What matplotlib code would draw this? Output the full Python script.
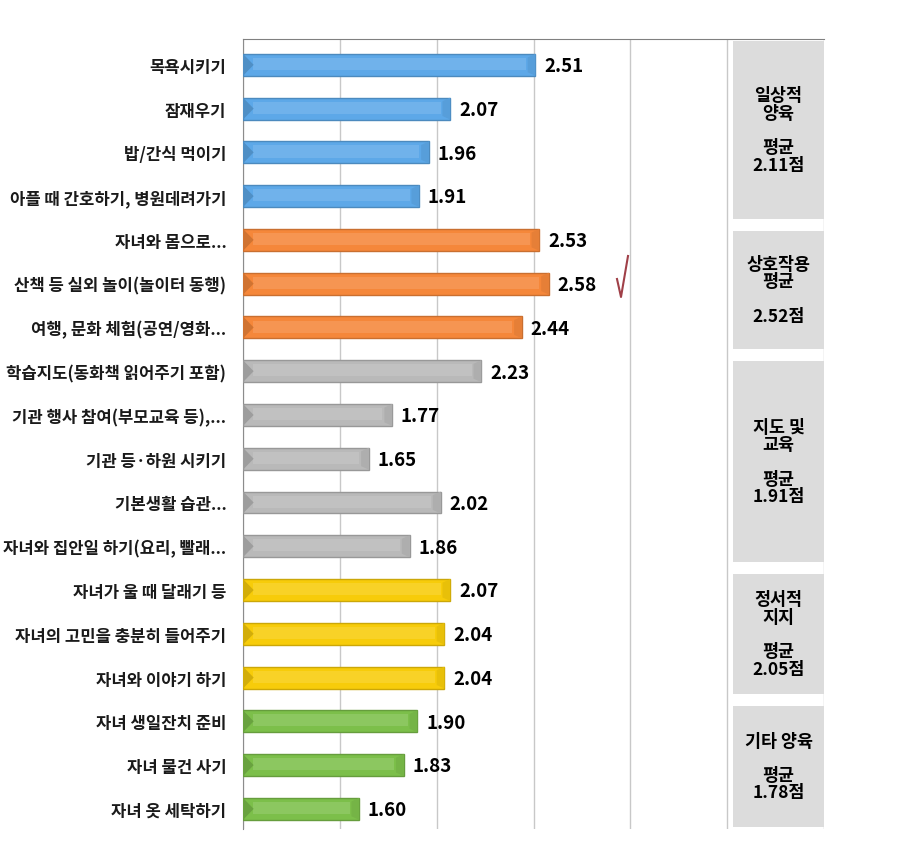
import matplotlib.pyplot as plt
from matplotlib.patches import Rectangle, Polygon
from matplotlib.lines import Line2D
import matplotlib.colors as mcolors

plt.rcParams['font.family'] = ['Noto Sans CJK KR', 'DejaVu Sans']

# data
categories = [
    "목욕시키기", "잠재우기", "밥/간식 먹이기", "아플 때 간호하기, 병원데려가기",
    "자녀와 몸으로...", "산책 등 실외 놀이(놀이터 동행)", "여행, 문화 체험(공연/영화...",
    "학습지도(동화책 읽어주기 포함)", "기관 행사 참여(부모교육 등),...", "기관 등·하원 시키기",
    "기본생활 습관...", "자녀와 집안일 하기(요리, 빨래...",
    "자녀가 울 때 달래기 등", "자녀의 고민을 충분히 들어주기", "자녀와 이야기 하기",
    "자녀 생일잔치 준비", "자녀 물건 사기", "자녀 옷 세탁하기",
]
values = [2.51, 2.07, 1.96, 1.91,
          2.53, 2.58, 2.44,
          2.23, 1.77, 1.65, 2.02, 1.86,
          2.07, 2.04, 2.04,
          1.90, 1.83, 1.60]
group_sizes = [4, 3, 5, 3, 3]
group_colors = ["#5DA8E8", "#F5873A", "#B9B9B9", "#F7CC0A", "#7CBF4A"]
group_texts = ["일상적\n양육\n\n평균\n2.11점",
               "상호작용\n평균\n\n2.52점",
               "지도 및\n교육\n\n평균\n1.91점",
               "정서적\n지지\n\n평균\n2.05점",
               "기타 양육\n\n평균\n1.78점"]
# box extents in figure pixels (top, bottom)
group_boxes = [(42, 220), (232, 350), (362, 563), (575, 695), (707, 828)]

W, H = 897, 854
fig = plt.figure(figsize=(W / 100, H / 100), dpi=100)
ax = fig.add_axes([243 / W, 1 - 830 / H, (824 - 243) / W, 790 / H])

x0 = 1.0
h = 0.5
colors = []
for c, n in zip(group_colors, group_sizes):
    colors += [c] * n


def shade(c, f):
    r, g, b = mcolors.to_rgb(c)
    if f < 1:
        return (r * f, g * f, b * f)
    return (r + (1 - r) * (f - 1), g + (1 - g) * (f - 1), b + (1 - b) * (f - 1))


for i, (v, c) in enumerate(zip(values, colors)):
    ax.barh(i, v - x0, left=x0, height=h, color=c, edgecolor=shade(c, 0.82),
            linewidth=1, zorder=3)
    # lighter inner band
    ax.barh(i - 0.02, v - x0 - 0.1, left=x0 + 0.05, height=h * 0.55,
            color=shade(c, 1.12), linewidth=0, zorder=4)
    # left bevel arrow
    ax.add_patch(Polygon([(x0, i - h / 2), (x0 + 0.055, i), (x0, i + h / 2)],
                         closed=True, color=shade(c, 0.85), zorder=5, linewidth=0))
    # right bevel
    ax.add_patch(Polygon([(v, i - h / 2), (v - 0.04, i - h / 2 + 0.08),
                          (v - 0.04, i + h / 2 - 0.08), (v, i + h / 2)],
                         closed=True, color=shade(c, 0.94), zorder=5, linewidth=0))
    ax.text(v + 0.045, i + 0.02, f"{v:.2f}", va='center', ha='left', fontsize=13.5,
            fontweight='bold', color='black', zorder=6)

ax.set_xlim(1.0, 4.0)
ax.set_ylim(17.46, -0.59)
ax.set_xticks([1.0, 1.5, 2.0, 2.5, 3.0, 3.5, 4.0])
ax.xaxis.grid(True, color='#C8C8C8', linewidth=1)
ax.set_axisbelow(True)
ax.tick_params(axis='x', length=0, labelbottom=False)
ax.set_yticks(range(len(categories)))
ax.set_yticklabels(categories, fontsize=12, fontweight='bold', color='#1A1A1A')
ax.tick_params(axis='y', length=0, pad=12)
for s in ['right', 'bottom']:
    ax.spines[s].set_visible(False)
ax.spines['left'].set_color('#8C8C8C')
ax.spines['top'].set_color('#808080')

# group summary boxes
for (top, bot), txt in zip(group_boxes, group_texts):
    fig.add_artist(Rectangle((733 / W, 1 - bot / H), (824 - 733) / W, (bot - top) / H,
                             transform=fig.transFigure, facecolor='#DCDCDC',
                             edgecolor='none', zorder=5))
    fig.text((733 + 824) / 2 / W, 1 - (top + bot) / 2 / H, txt, ha='center',
             va='center', fontsize=12.5, fontweight='bold', linespacing=0.95, zorder=6)

# check mark
fig.add_artist(Line2D([617 / W, 621 / W, 628 / W], [1 - 280 / H, 1 - 298 / H, 1 - 257 / H],
                      transform=fig.transFigure, color='#A04048', linewidth=1.5))

fig.savefig('out.png', dpi=100)
